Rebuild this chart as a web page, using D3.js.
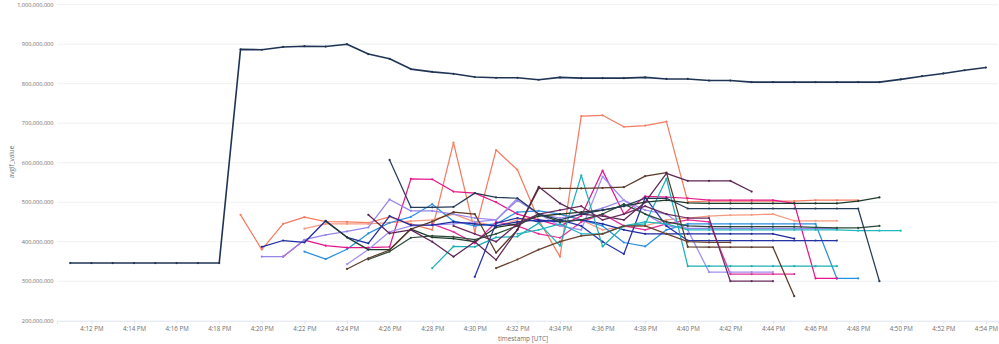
<!DOCTYPE html>
<html><head><meta charset="utf-8">
<script src="https://cdn.jsdelivr.net/npm/d3@7"></script>
<style>
html,body{margin:0;padding:0;background:#fff;}
svg{display:block;font-family:"Segoe UI","Open Sans","Noto Sans",sans-serif;}
</style></head>
<body><svg id="c" width="999" height="344"></svg>
<script>
// ---- data (values in millions) ----
const yTicks = [200,300,400,500,600,700,800,900,1000];
const seriesNames = ["main","orangeA","salmonB","lightBlue","magentaA","magentaB","lavenderA","lavenderB","darkBlueA","darkBlueB","tealA","tealB","greenA","greenB","brownA","brownB","plumA","plumB","slate"];
const seriesStart = ["16:11","16:19","16:22","16:22","16:21","16:28","16:20","16:24","16:20","16:30","16:28","16:32","16:23","16:25","16:24","16:31","16:25","16:29","16:26"];
const main      = [346,346,346,346,346,346,346,346,887,886,893,895,894,900,875,863,837,830,825,817,815,815,810,816,814,814,814,816,812,812,808,808,804,804,804,804,804,804,804,811,819,826,834,841];
const orangeA   = [468,380,445,462,451,450,448,463,445,430,651,425,632,582,455,362,718,720,691,694,704,501,503,503,503,503,503,505,505,505];
const salmonB   = [433,445,445,445,448,452,455,470,450,440,455,465,470,455,430,438,440,455,460,465,467,468,470,453,453,453];
const lightBlue = [375,356,381,421,448,463,495,452,440,445,475,478,470,455,440,398,388,430,445,445,445,445,445,445,445,307,307];
const magentaA  = [362,404,390,385,385,387,559,558,527,523,500,470,455,440,465,580,470,515,513,510,505,505,505,505,497,307,307];
const magentaB  = [445,425,396,450,440,420,410,450,470,440,430,445,455,450,318,318,318,318];
const lavenderA = [362,362,405,417,426,436,507,478,478,470,460,455,505,470,460,470,485,505,470,440,434,434,434,434,434,434,434,434];
const lavenderB = [343,380,425,440,442,445,450,455,510,470,440,430,565,505,480,470,430,323,323,323,323];
const darkBlueA = [387,403,398,453,411,396,465,442,442,450,445,440,450,455,450,455,445,430,420,420,420,420,420,420,420,408];
const darkBlueB = [311,447,460,450,455,440,400,369,512,440,403,403,403,403,403,403,403,403];
const tealA     = [333,388,387,411,413,447,390,568,388,440,445,560,338,338,338,338,338,338,338,338];
const tealB     = [420,430,445,420,420,440,450,445,430,430,430,430,430,430,430,430,428,428,428];
const greenA    = [452,411,380,380,432,411,408,400,436,445,465,470,475,480,490,500,505,498,497,497,497,497,497,497,497,503,512];
const greenB    = [355,375,410,415,412,405,420,440,470,450,455,470,495,470,450,440,438,438,438,438,438,436,435,435,440];
const brownA    = [331,358,379,432,451,475,470,372,430,535,535,535,536,538,566,575,387,386,386,386,386,262];
const brownB    = [333,355,380,400,415,420,440,440,420,400,398,398];
const plumA     = [468,421,430,400,362,400,354,430,539,497,470,465,455,500,573,554,554,554,527];
const plumB     = [440,420,400,445,470,480,490,455,470,490,470,460,460,300,300,300];
const slate     = [607,487,487,488,523,512,510,470,455,470,480,490,510,510,484,484,484,484,484,484,484,484,484,300];
const seriesValues = [main,orangeA,salmonB,lightBlue,magentaA,magentaB,lavenderA,lavenderB,darkBlueA,darkBlueB,tealA,tealB,greenA,greenB,brownA,brownB,plumA,plumB,slate];

// ---- styles ----
const seriesColors = ["#1f3454","#f47c62","#f59a80","#2b8fdf","#e5168c","#e42f9a","#9585ea","#a08ff0","#1e2b9e","#2433a8","#1cb0b6","#21b8c0","#1f3a2b","#2c4a37","#5a3929","#6a4330","#5b2553","#6a2c60","#253c58"];

const svg = d3.select("#c");
const pLeft = 57, pRight = 998, pTop = 4.7, pBottom = 320.7;
const toTime = (s, addMin=0) => { const [h,m] = s.split(":").map(Number); return new Date(2024,0,1,h,m+addMin,0); };

const x = d3.scaleTime().domain([new Date(2024,0,1,16,10,23), new Date(2024,0,1,16,54,34)]).range([pLeft, pRight]);
const y = d3.scaleLinear().domain([200,1000]).range([pBottom, pTop]);

// gridlines
svg.append("g").selectAll("line").data(yTicks.filter(d=>d>200)).join("line")
  .attr("x1", pLeft).attr("x2", pRight)
  .attr("y1", d=>y(d)).attr("y2", d=>y(d))
  .attr("stroke", "#eef0f3").attr("stroke-width", 1);

// y labels
svg.append("g").selectAll("text").data(yTicks).join("text")
  .attr("x", 53.5).attr("y", d=>y(d)).attr("dy","0.35em")
  .attr("text-anchor","end").attr("font-size", 5.6).attr("fill","#6f6f6f")
  .text(d=>d3.format(",")(d*1e6));

// x axis
const xAxis = d3.axisBottom(x).ticks(d3.timeMinute.every(2)).tickFormat(d3.timeFormat("%-I:%M %p")).tickSize(3).tickPadding(3);
const gx = svg.append("g").attr("transform", `translate(0,${pBottom})`).call(xAxis);
gx.select(".domain").attr("stroke","#dde4ef");
gx.selectAll(".tick line").attr("stroke","#dde4ef");
gx.selectAll(".tick text").attr("font-size", 6.2).attr("fill","#6f6f6f").attr("font-family","'Segoe UI','Open Sans',sans-serif");

// axis titles
svg.append("text").attr("x", 523).attr("y", 341).attr("text-anchor","middle")
  .attr("font-size", 6.4).attr("fill","#6f6f6f").text("timestamp [UTC]");
svg.append("text").attr("transform","translate(14,162) rotate(-90)").attr("text-anchor","middle")
  .attr("font-size", 6.4).attr("fill","#6f6f6f").text("avgif_value");

// series
const line = d3.line().x(d=>x(d.t)).y(d=>y(d.v));
const series = seriesValues.map((vals,i)=>({
  name: seriesNames[i], color: seriesColors[i],
  pts: vals.map((v,k)=>({t: toTime(seriesStart[i], k), v}))
}));
const order = series.slice(1).concat([series[0]]);
const g = svg.append("g");
order.forEach(s=>{
  g.append("path").attr("d", line(s.pts)).attr("fill","none")
    .attr("stroke", s.color).attr("stroke-width", s.name==="main"?1.6:1.25)
    .attr("stroke-linejoin","round");
  g.append("g").selectAll("circle").data(s.pts).join("circle")
    .attr("cx", d=>x(d.t)).attr("cy", d=>y(d.v)).attr("r", 1.1).attr("fill", s.color);
});
</script></body></html>
